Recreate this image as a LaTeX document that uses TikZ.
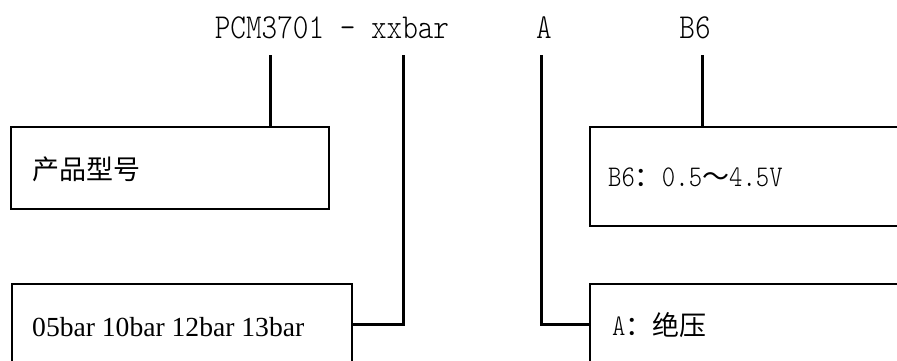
\documentclass[tikz,border=0pt]{standalone}
\usepackage{fontspec}
\setmainfont{Liberation Serif}
\newfontfamily\cjk{Noto Sans CJK SC}
\newfontfamily\monolat{lmmonolt10-regular.otf}[FakeStretch=0.85]
\begin{document}
\begin{tikzpicture}[x=1pt,y=-1pt,
  conn/.style={line width=3pt},
  boxst/.style={draw,line width=2pt,rectangle,inner sep=0pt,anchor=north west},
  toptxt/.style={font=\monolat\fontsize{35}{40}\selectfont,inner sep=0pt,anchor=base},
  boxtxt/.style={inner sep=0pt,anchor=base west},
  cjktxt/.style={font=\cjk\fontsize{27}{32}\selectfont}]
\useasboundingbox (0,0) rectangle (897,360);
\clip (0,0) rectangle (897,360);
% top labels
\node[toptxt] (pcm) at (332,38) {PCM3701 - xxbar};
\node[toptxt] (ta) at (544,38) {A};
\node[toptxt] (tb) at (695,38) {B6};
% boxes
\node[boxst,minimum width=318pt,minimum height=82pt] (box1) at (10,126) {};
\node[boxst,minimum width=330pt,minimum height=99pt] (box2) at (589,126) {};
\node[boxst,minimum width=340pt,minimum height=100pt] (box3) at (11,283) {};
\node[boxst,minimum width=330pt,minimum height=100pt] (box4) at (589,283) {};
% box texts
\node[boxtxt,cjktxt] (l1) at (32,179) {产品型号};
\node[boxtxt] (l2) at (608,186) {\monolat\fontsize{30}{34}\selectfont B6\cjk\fontsize{27}{32}\selectfont ：\monolat\fontsize{30}{34}\selectfont 0.5\cjk\fontsize{27}{32}\selectfont ～\monolat\fontsize{30}{34}\selectfont 4.5V};
\node[boxtxt,font=\fontsize{27.6}{32}\selectfont] (l3) at (32,336) {05bar 10bar 12bar 13bar};
\node[boxtxt] (l4) at (612,335) {\monolat\fontsize{30}{34}\selectfont A\cjk\fontsize{27}{32}\selectfont ：绝压};
% connectors
\coordinate (c1) at (270,55);
\coordinate (c2) at (403,55);
\coordinate (c3) at (541,55);
\coordinate (c4) at (702,55);
\coordinate (j2) at (403,324);
\coordinate (j3) at (541,324);
\draw[conn] (c1) -- (c1 |- box1.north);
\draw[conn] (c4) -- (c4 |- box2.north);
\draw[conn] (c2) -- (j2) -- (j2 -| box3.east);
\draw[conn] (c3) -- (j3) -- (j3 -| box4.west);
\end{tikzpicture}
\end{document}
